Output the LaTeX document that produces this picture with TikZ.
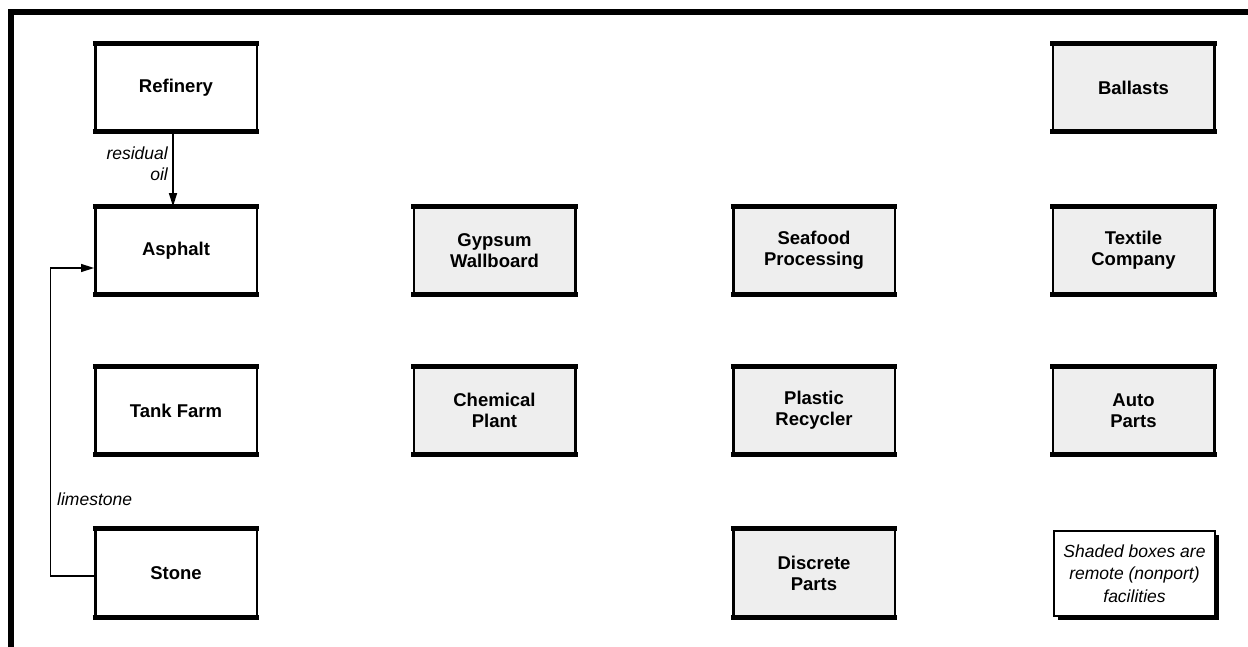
\documentclass[tikz,border=0pt]{standalone}
\usepackage{fontspec}
\setmainfont{Liberation Sans}
\usetikzlibrary{arrows.meta,shadows}
\definecolor{boxgray}{RGB}{238,238,238}
\begin{document}
\begin{tikzpicture}[x=1pt,y=-1pt,
  facility/.style={draw, line width=2.5pt, minimum width=161.5pt, minimum height=86pt,
    inner sep=0pt, align=center, font=\fontsize{18.5}{21}\selectfont\bfseries},
  port/.style={facility, fill=white},
  remote/.style={facility, fill=boxgray},
  rim/.style={line width=5pt},
  flow/.style={line width=1.5pt, -{Triangle[length=13pt,width=8pt]}},
  flowlabel/.style={font=\fontsize{17.5}{21}\selectfont\itshape, inner sep=0pt},
  keybox/.style={draw, line width=2.5pt, fill=white, minimum width=161pt, minimum height=85pt,
    inner sep=0pt, align=center, font=\fontsize{17.5}{22.5}\selectfont\itshape,
    general shadow={fill=black, shadow xshift=4pt, shadow yshift=-4pt}}
]
\useasboundingbox (0,0) rectangle (1248,647);

% page frame (top and left rules only)
\draw[line width=6pt, line join=miter] (11,660) -- (11,12) -- (1260,12);

% port facilities
\node[port] (ref) at (176,87.5)  {Refinery};
\node[port] (asp) at (176,250.5) {Asphalt};
\node[port] (tnk) at (176,410.5) {Tank Farm};
\node[port] (sto) at (176,573)   {Stone};

% remote facilities
\node[remote] (gyp) at (494.5,250.5) {Gypsum\\Wallboard};
\node[remote] (chm) at (494.5,410.5) {Chemical\\Plant};
\node[remote] (sea) at (814,250.5)   {Seafood\\Processing};
\node[remote] (pla) at (814,410.5)   {Plastic\\Recycler};
\node[remote] (dis) at (814,573)     {Discrete\\Parts};
\node[remote] (bal) at (1133.5,87.5)  {Ballasts};
\node[remote] (tex) at (1133.5,250.5) {Textile\\Company};
\node[remote] (aut) at (1133.5,410.5) {Auto\\Parts};

% material flows
\draw[flow] ([xshift=-3pt]ref.south) -- ([xshift=-3pt]asp.north);
\node[flowlabel, anchor=north east, align=right] (lres) at (168,146.5) {residual\\oil};
\draw[flow] ([yshift=-3pt]sto.west) -- ++(-43.5,0) |- ([yshift=-17.5pt]asp.west);
\node[flowlabel, anchor=base west] (llim) at (57,505) {limestone};

% heavy top and bottom edges of the facility boxes
\foreach \n in {ref,asp,tnk,sto,gyp,chm,sea,pla,dis,bal,tex,aut}{
  \draw[rim] ([xshift=-1.25pt]\n.north west) -- ([xshift=1.25pt]\n.north east);
  \draw[rim] ([xshift=-1.25pt]\n.south west) -- ([xshift=1.25pt]\n.south east);
}

% legend
\node[keybox] (key) at (1134.5,573.5) {Shaded boxes are\\remote (nonport)\\facilities};
\end{tikzpicture}
\end{document}
